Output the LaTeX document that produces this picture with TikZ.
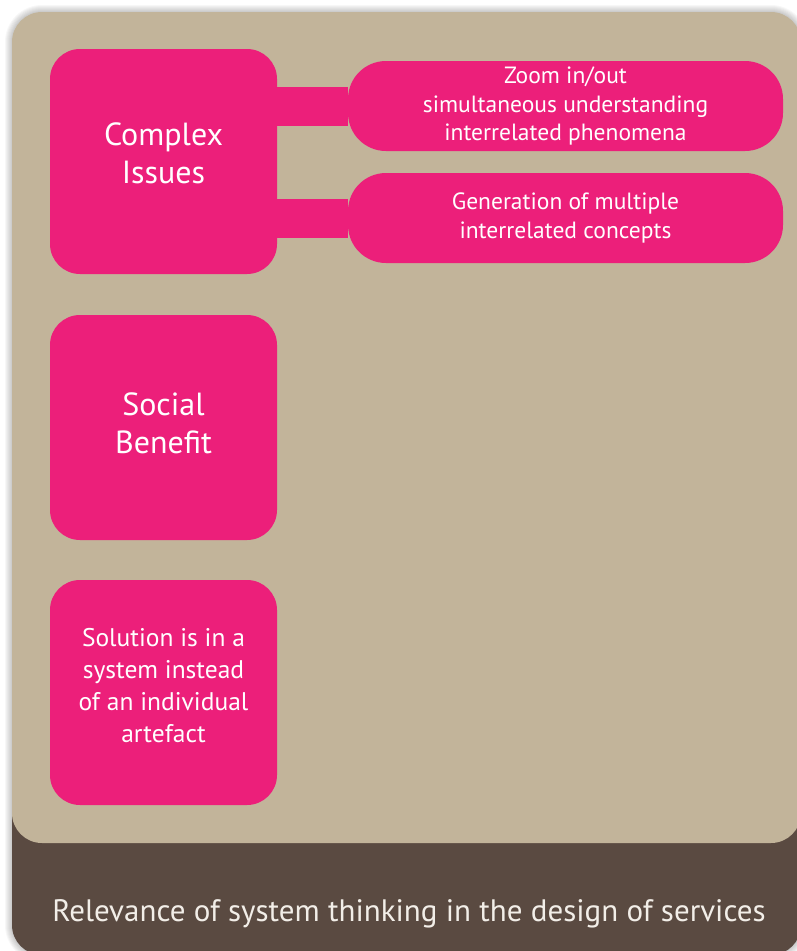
\documentclass[tikz,border=0pt]{standalone}
\usepackage{fontspec}
\setmainfont{PT Sans}
\definecolor{pinkc}{HTML}{EC1F7A}
\definecolor{sand}{HTML}{C2B49A}
\definecolor{umber}{HTML}{5A4A41}
\definecolor{paper}{HTML}{F2EEE8}
\begin{document}
\begin{tikzpicture}[x=1pt,y=-1pt,
  issue/.style={fill=pinkc, rounded corners=30pt, minimum width=227pt,
    minimum height=225pt, inner sep=0pt},
  issuetext/.style={text=white, align=center, inner sep=0pt},
  pill/.style={fill=pinkc, rounded corners=38pt, minimum width=435pt,
    minimum height=90pt, inner sep=0pt, text=white, align=center,
    font=\fontsize{23.5}{28.5}\selectfont},
  link/.style={draw=pinkc, line width=39pt}]
\useasboundingbox (0,0) rectangle (797,951);
\clip (0,0) rectangle (797,951);
% soft shadow around the panel
\foreach \i in {1,...,7}
  \fill[black, opacity=0.03, rounded corners=30pt+\i pt]
    (12-\i,12-\i) rectangle (801+\i,955+\i);
% caption band and main panel
\fill[umber, rounded corners=30pt] (12,700) rectangle (801,955);
\fill[sand, rounded corners=30pt] (12,12) rectangle (801,843);
% left column
\node[issue] (b1) at (163.5,161.5) {};
\node[issue] (b2) at (163.5,427.5) {};
\node[issue] (b3) at (163.5,692.5) {};
\node[issuetext, font=\fontsize{32}{38}\selectfont] (t1) at (163.5,153) {Complex\\Issues};
\node[issuetext, font=\fontsize{32}{38}\selectfont] (t2) at (163.5,423) {Social\\Benefit};
\node[issuetext, font=\fontsize{25.5}{32}\selectfont] (t3) at (163.5,686) {Solution is in a\\system instead\\of an individual\\artefact};
% right column
\node[pill] (p1) at (565.5,106) {Zoom in/out\\simultaneous understanding\\interrelated phenomena};
\node[pill] (p2) at (565.5,218) {Generation of multiple\\interrelated concepts};
\draw[link] (p1.west -| b1.east) ++(-2,0) -- (p1.west);
\draw[link] (p2.west -| b1.east) ++(-2,0) -- (p2.west);
% caption
\node[text=paper, anchor=base, inner sep=0pt, font=\fontsize{31}{34}\selectfont] (cap) at (409,921)
  {Relevance of system thinking in the design of services};
\end{tikzpicture}
\end{document}
